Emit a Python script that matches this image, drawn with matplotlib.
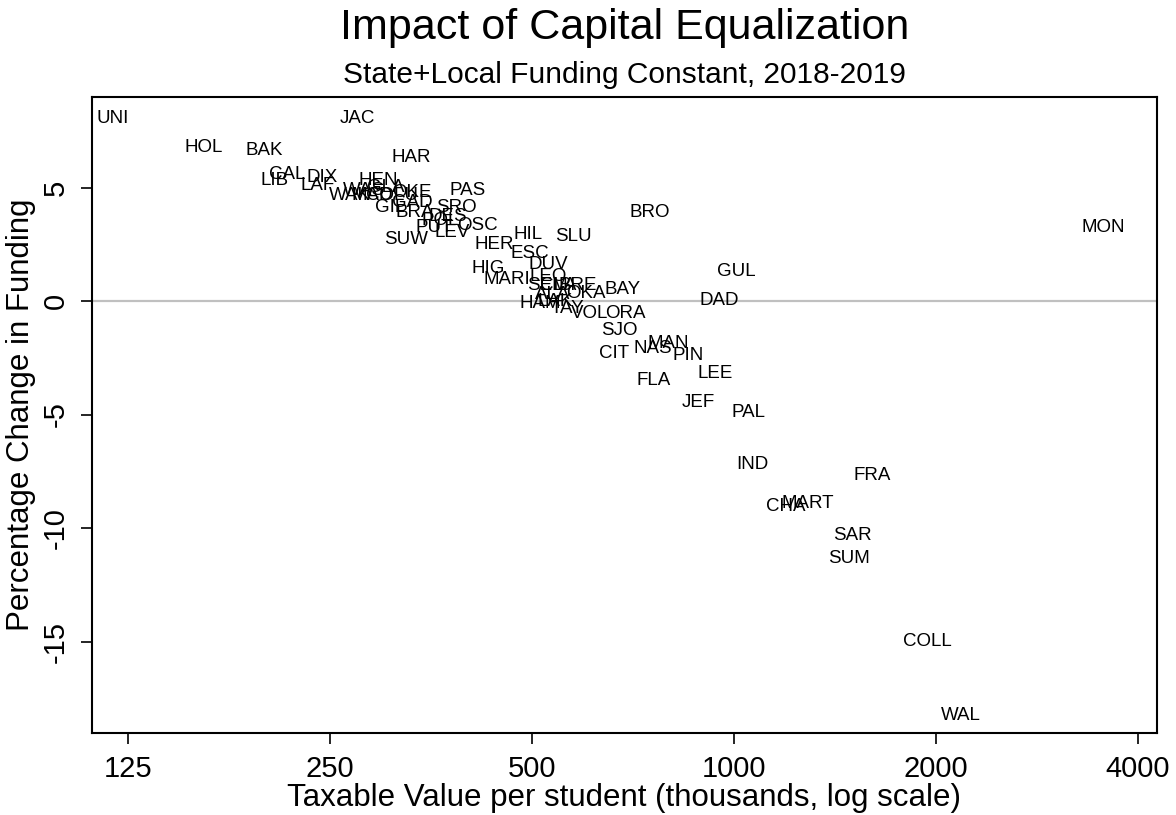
import matplotlib
matplotlib.use("Agg")
import matplotlib.pyplot as plt
import numpy as np

## DATA: county label, taxable value per student (thousands), % change in funding ##

counties = ['UNI', 'JAC', 'HOL', 'BAK', 'HAR', 'CAL', 'DIX', 'LIB', 'LAF', 'HEN',
            'GLA', 'WAS', 'WAK', 'MAD', 'OKE', 'PAS', 'GIL', 'GAD', 'SRO', 'BRA',
            'DES', 'POL', 'PUT', 'LEV', 'OSC', 'SUW', 'HER', 'HIL', 'SLU', 'ESC',
            'DUV', 'HIG', 'MARI', 'LEO', 'SEM', 'CLA', 'BRE', 'ALA', 'OKA', 'BAY',
            'HAM', 'LAK', 'TAY', 'VOL', 'ORA', 'SJO', 'CIT', 'NAS', 'MAN', 'PIN',
            'FLA', 'LEE', 'JEF', 'PAL', 'BRO', 'GUL', 'DAD', 'MON', 'IND', 'FRA',
            'CHA', 'MART', 'SAR', 'SUM', 'COLL', 'WAL', 'COLU']

taxable_value = [118.7, 274.3, 162.2, 199.4, 330.0, 215.7, 243.2, 207.0, 239.9, 294.8,
                 302.9, 280.9, 267.8, 288.9, 331.2, 401.4, 307.1, 331.2, 385.3, 334.7,
                 374.9, 364.7, 357.3, 380.0, 414.1, 324.4, 438.9, 493.1, 575.6, 496.7,
                 528.2, 429.9, 458.9, 528.2, 528.2, 546.7, 585.6, 537.4, 601.8, 683.3,
                 513.9, 541.1, 564.0, 610.2, 688.0, 674.0, 662.6, 757.3, 797.5, 854.0,
                 760.0, 937.0, 883.8, 1052.9, 749.5, 1006.9, 949.8, 3547.0, 1067.0, 1605.6,
                 1195.7, 1289.0, 1499.0, 1483.8, 1939.5, 2179.0, 309.3]

pct_change = [8.06, 8.06, 6.78, 6.65, 6.34, 5.59, 5.46, 5.29, 5.11, 5.29,
              5.02, 4.89, 4.63, 4.63, 4.80, 4.85, 4.14, 4.32, 4.14, 3.88,
              3.74, 3.57, 3.22, 3.00, 3.35, 2.69, 2.51, 2.95, 2.86, 2.11,
              1.63, 1.45, 0.97, 1.10, 0.70, 0.70, 0.70, 0.31, 0.35, 0.53,
              -0.09, 0.00, -0.31, -0.53, -0.57, -1.28, -2.29, -2.11, -1.85, -2.38,
              -3.48, -3.17, -4.45, -4.89, 3.92, 1.28, 0.04, 3.22, -7.18, -7.67,
              -9.03, -8.90, -10.35, -11.32, -15.02, -18.28, 4.63]

x_ticks = [125, 250, 500, 1000, 2000, 4000]
y_ticks = [-15, -10, -5, 0, 5]

#----------------------------------------------------------------------------------
## PLOT ##
#----------------------------------------------------------------------------------

plt.rcParams['font.family'] = ['Liberation Sans', 'DejaVu Sans']

fig = plt.figure(figsize=(11.76, 8.15), dpi=100)
ax = fig.add_axes([0.0782, 0.1006, 0.9056, 0.7804])

# zero reference line
ax.axhline(0, color='#c0c0c0', linewidth=1.6, zorder=1)

# only the labels are drawn, centred on each point (no markers)
for name, xv, yv in zip(counties, taxable_value, pct_change):
    ax.text(xv, yv, name, ha='center', va='center', fontsize=13.5, zorder=3)

ax.set_xscale('log', base=2)
ax.set_xlim(110.5, 4269)
ax.set_ylim(-19.03, 8.99)

ax.set_xticks(x_ticks)
ax.set_xticklabels([str(t) for t in x_ticks])
ax.minorticks_off()
ax.set_yticks(y_ticks)
ax.set_yticklabels([str(t) for t in y_ticks], rotation=90, va='center')

ax.tick_params(axis='both', direction='out', length=8, width=1.2, labelsize=21, pad=8)
for s in ax.spines.values():
    s.set_linewidth(1.5)

ax.set_xlabel("Taxable Value per student (thousands, log scale)", fontsize=22.5, labelpad=0)
ax.set_ylabel("Percentage Change in Funding", fontsize=22.5, labelpad=4)

fig.text(0.531, 0.966, "Impact of Capital Equalization", ha='center', va='center', fontsize=31)
fig.text(0.531, 0.908, "State+Local Funding Constant, 2018-2019", ha='center', va='center', fontsize=21.5)

plt.savefig("out.png", dpi=100)
